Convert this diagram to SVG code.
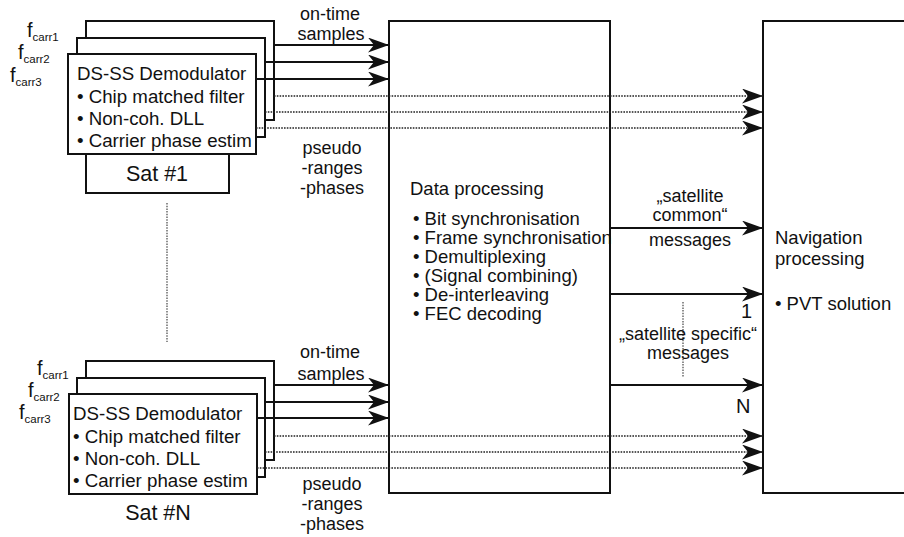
<svg xmlns="http://www.w3.org/2000/svg" width="904" height="537" viewBox="0 0 904 537">
<style>
text{font-family:"Liberation Sans",Arial,sans-serif;font-size:18px;fill:#111}
.sub{font-size:11.5px}
.fc{font-size:20px}
.bx{font-size:18.7px}
.dp{font-size:18.5px}
.sat{font-size:21.5px}
.big{font-size:20px}
.box{fill:#fff;stroke:#111;stroke-width:2}
.sol{stroke:#111;stroke-width:2;fill:none}
.dot{stroke:#222;stroke-width:1.4;stroke-dasharray:1.6 1.2;fill:none}
.vdot{stroke:#444;stroke-width:1.2;stroke-dasharray:1.5 1.2;fill:none}
.m{text-anchor:middle}
</style>
<defs>
<marker id="ah" markerUnits="userSpaceOnUse" markerWidth="21" markerHeight="15" refX="21" refY="7.5" orient="auto">
<path d="M0,0 L21,7.5 L0,15 L6,7.5 Z" fill="#111"/>
</marker>
</defs>
<rect width="904" height="537" fill="#fff"/>

<g id="sat1">
<rect class="box" x="86" y="21" width="188" height="99"/>
<rect class="box" x="86" y="140" width="143" height="53"/>
<rect class="box" x="77" y="38" width="188" height="99"/>
<rect class="box" x="68" y="54" width="188" height="100"/>
<text class="bx" x="77" y="80">DS-SS Demodulator</text>
<text class="bx" x="77" y="103">• Chip matched filter</text>
<text class="bx" x="77" y="125">• Non-coh. DLL</text>
<text class="bx" x="77" y="147">• Carrier phase estim</text>
<text class="m sat" x="157" y="181">Sat #1</text>
<text class="fc" x="27" y="37">f<tspan class="sub" dy="4">carr1</tspan></text>
<text class="fc" x="18" y="59">f<tspan class="sub" dy="4">carr2</tspan></text>
<text class="fc" x="10" y="82">f<tspan class="sub" dy="4">carr3</tspan></text>
</g>

<g id="satN">
<rect class="box" x="86" y="361" width="188" height="99"/>
<rect class="box" x="77" y="378" width="188" height="99"/>
<rect class="box" x="69" y="394" width="188" height="100"/>
<text class="bx" x="73" y="420">DS-SS Demodulator</text>
<text class="bx" x="73" y="443">• Chip matched filter</text>
<text class="bx" x="73" y="465">• Non-coh. DLL</text>
<text class="bx" x="73" y="487">• Carrier phase estim</text>
<text class="m sat" x="158" y="520">Sat #N</text>
<text class="fc" x="37" y="375">f<tspan class="sub" dy="4">carr1</tspan></text>
<text class="fc" x="28" y="397">f<tspan class="sub" dy="4">carr2</tspan></text>
<text class="fc" x="19" y="419">f<tspan class="sub" dy="4">carr3</tspan></text>
</g>

<g id="dataProc">
<rect class="box" x="389" y="21" width="221" height="472"/>
<text class="dp" x="410" y="195">Data processing</text>
<text class="dp" x="413" y="225">• Bit synchronisation</text>
<text class="dp" x="413" y="244">• Frame synchronisation</text>
<text class="dp" x="413" y="263">• Demultiplexing</text>
<text class="dp" x="413" y="282">• (Signal combining)</text>
<text class="dp" x="413" y="301">• De-interleaving</text>
<text class="dp" x="413" y="320">• FEC decoding</text>
</g>

<g id="navProc">
<rect class="box" x="763" y="21" width="200" height="472"/>
<text class="dp" x="775" y="244">Navigation</text>
<text class="dp" x="775" y="265">processing</text>
<text class="dp" x="775" y="310">• PVT solution</text>
</g>

<g id="connectors">
<line class="sol" x1="274" y1="45" x2="389" y2="45" marker-end="url(#ah)"/>
<line class="sol" x1="265" y1="62" x2="389" y2="62" marker-end="url(#ah)"/>
<line class="sol" x1="256" y1="79" x2="389" y2="79" marker-end="url(#ah)"/>
<line class="dot" x1="274" y1="96" x2="763" y2="96" marker-end="url(#ah)"/>
<line class="dot" x1="265" y1="112" x2="763" y2="112" marker-end="url(#ah)"/>
<line class="dot" x1="256" y1="128" x2="763" y2="128" marker-end="url(#ah)"/>

<line class="sol" x1="274" y1="385" x2="389" y2="385" marker-end="url(#ah)"/>
<line class="sol" x1="265" y1="402" x2="389" y2="402" marker-end="url(#ah)"/>
<line class="sol" x1="257" y1="418" x2="389" y2="418" marker-end="url(#ah)"/>
<line class="dot" x1="274" y1="436" x2="763" y2="436" marker-end="url(#ah)"/>
<line class="dot" x1="265" y1="452" x2="763" y2="452" marker-end="url(#ah)"/>
<line class="dot" x1="257" y1="468" x2="763" y2="468" marker-end="url(#ah)"/>

<line class="sol" x1="610" y1="228" x2="763" y2="228" marker-end="url(#ah)"/>
<line class="sol" x1="610" y1="294" x2="763" y2="294" marker-end="url(#ah)"/>
<line class="sol" x1="610" y1="385" x2="763" y2="385" marker-end="url(#ah)"/>

<line class="vdot" x1="167" y1="203" x2="167" y2="342"/>
<line class="vdot" x1="683" y1="302" x2="683" y2="377"/>
</g>

<g id="labels">
<text class="m" x="330" y="20">on-time</text>
<text class="m" x="331" y="40">samples</text>
<text class="m" x="332" y="154">pseudo</text>
<text class="m" x="332" y="174">-ranges</text>
<text class="m" x="332" y="194">-phases</text>

<text class="m" x="330" y="358">on-time</text>
<text class="m" x="331" y="380">samples</text>
<text class="m" x="332" y="490">pseudo</text>
<text class="m" x="332" y="510">-ranges</text>
<text class="m" x="332" y="530">-phases</text>

<text class="m" x="690" y="202">„satellite</text>
<text class="m" x="690" y="221">common“</text>
<text class="m" x="690" y="246">messages</text>
<text class="big" x="741" y="318">1</text>
<text class="m" x="688" y="340">„satellite specific“</text>
<text class="m" x="688" y="359">messages</text>
<text class="big" x="736" y="413">N</text>
</g>
</svg>
